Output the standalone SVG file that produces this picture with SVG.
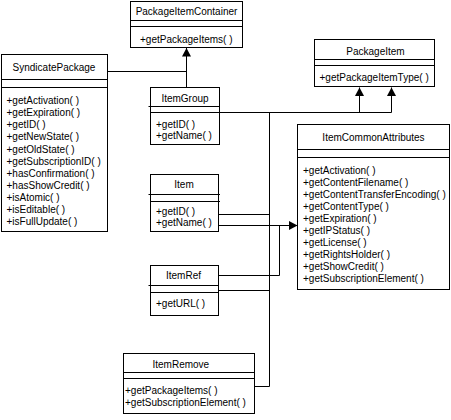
<svg xmlns="http://www.w3.org/2000/svg" width="451" height="420" viewBox="0 0 451 420">
<style>
.box{fill:#fff;stroke:#000;stroke-width:1}
.ln{fill:none;stroke:#000;stroke-width:1}
text{font-family:"Liberation Sans",Arial,sans-serif;font-size:10px;fill:#000}
.t{text-anchor:middle}
</style>
<defs>
<marker id="gen" markerUnits="userSpaceOnUse" markerWidth="12" markerHeight="12" viewBox="-10 -6 12 12" refX="0" refY="0" orient="auto">
<path d="M0,0 L-8.5,-4.5 L-8.5,4.5 Z" fill="#000"/>
</marker>
</defs>
<rect width="451" height="420" fill="#fff"/>
<g id="connectors">
<polyline class="ln" points="107.5,71.5 186.5,71.5"/>
<line class="ln" x1="186.5" y1="87.5" x2="186.5" y2="48" marker-end="url(#gen)"/>
<polyline class="ln" points="219.5,112.5 391.5,112.5"/>
<line class="ln" x1="359.5" y1="112.5" x2="359.5" y2="87.5" marker-end="url(#gen)"/>
<line class="ln" x1="391.5" y1="112.5" x2="391.5" y2="87.5" marker-end="url(#gen)"/>
<line class="ln" x1="269.5" y1="112.5" x2="269.5" y2="386.5"/>
<line class="ln" x1="218.5" y1="214.5" x2="269.5" y2="214.5"/>
<line class="ln" x1="218.5" y1="225.5" x2="297.5" y2="225.5" marker-end="url(#gen)"/>
<polyline class="ln" points="218.5,275.5 279.5,275.5 279.5,225.5"/>
<line class="ln" x1="218.5" y1="290.5" x2="269.5" y2="290.5"/>
<line class="ln" x1="254.5" y1="386.5" x2="269.5" y2="386.5"/>
</g>
<g id="PackageItemContainer">
<rect class="box" x="130.5" y="1.5" width="112" height="46"/>
<line class="ln" x1="130.5" y1="20.5" x2="242.5" y2="20.5"/>
<line class="ln" x1="130.5" y1="26.5" x2="242.5" y2="26.5"/>
<text class="t" x="186.5" y="14.5">PackageItemContainer</text>
<text x="140" y="42.5">+getPackageItems( )</text>
</g>
<g id="PackageItem">
<rect class="box" x="314.5" y="39.5" width="120" height="47"/>
<line class="ln" x1="314.5" y1="59.5" x2="434.5" y2="59.5"/>
<line class="ln" x1="314.5" y1="65.5" x2="434.5" y2="65.5"/>
<text class="t" x="375.5" y="55">PackageItem</text>
<text x="319.5" y="81">+getPackageItemType( )</text>
</g>
<g id="SyndicatePackage">
<rect class="box" x="1.5" y="54.5" width="106" height="177"/>
<line class="ln" x1="1.5" y1="79.5" x2="107.5" y2="79.5"/>
<line class="ln" x1="1.5" y1="87.5" x2="107.5" y2="87.5"/>
<text class="t" x="54" y="70.5">SyndicatePackage</text>
<text x="6.5" y="104">+getActivation( )</text>
<text x="6.5" y="116">+getExpiration( )</text>
<text x="6.5" y="128">+getID( )</text>
<text x="6.5" y="140">+getNewState( )</text>
<text x="6.5" y="152.5">+getOldState( )</text>
<text x="6.5" y="164.5">+getSubscriptionID( )</text>
<text x="6.5" y="176.5">+hasConfirmation( )</text>
<text x="6.5" y="188.5">+hasShowCredit( )</text>
<text x="6.5" y="200.5">+isAtomic( )</text>
<text x="6.5" y="212.5">+isEditable( )</text>
<text x="6.5" y="224.5">+isFullUpdate( )</text>
</g>
<g id="ItemGroup">
<rect class="box" x="150.5" y="87.5" width="69" height="57"/>
<line class="ln" x1="148.5" y1="106.5" x2="219.5" y2="106.5"/>
<line class="ln" x1="150.5" y1="112.5" x2="219.5" y2="112.5"/>
<text class="t" x="185" y="101.5">ItemGroup</text>
<text x="156" y="127.5">+getID( )</text>
<text x="156" y="139">+getName( )</text>
</g>
<g id="ItemCommonAttributes">
<rect class="box" x="297.5" y="124.5" width="152" height="165"/>
<line class="ln" x1="297.5" y1="149.5" x2="449.5" y2="149.5"/>
<line class="ln" x1="297.5" y1="157.5" x2="449.5" y2="157.5"/>
<text class="t" x="373.5" y="141">ItemCommonAttributes</text>
<text x="303" y="173.5">+getActivation( )</text>
<text x="303" y="185.5">+getContentFilename( )</text>
<text x="303" y="197.5">+getContentTransferEncoding( )</text>
<text x="303" y="209.5">+getContentType( )</text>
<text x="303" y="221.5">+getExpiration( )</text>
<text x="303" y="233.5">+getIPStatus( )</text>
<text x="303" y="245.5">+getLicense( )</text>
<text x="303" y="257.5">+getRightsHolder( )</text>
<text x="303" y="269.5">+getShowCredit( )</text>
<text x="303" y="281.5">+getSubscriptionElement( )</text>
</g>
<g id="Item">
<rect class="box" x="150.5" y="174.5" width="68" height="57"/>
<line class="ln" x1="148.5" y1="194.5" x2="220" y2="194.5"/>
<line class="ln" x1="150.5" y1="201.5" x2="220" y2="201.5"/>
<text class="t" x="184" y="188">Item</text>
<text x="156" y="215">+getID( )</text>
<text x="156" y="226">+getName( )</text>
</g>
<g id="ItemRef">
<rect class="box" x="150.5" y="265.5" width="68" height="50"/>
<line class="ln" x1="148.5" y1="285.5" x2="218.5" y2="285.5"/>
<line class="ln" x1="150.5" y1="292.5" x2="218.5" y2="292.5"/>
<text class="t" x="183.5" y="279">ItemRef</text>
<text x="156" y="307">+getURL( )</text>
</g>
<g id="ItemRemove">
<rect class="box" x="123.5" y="353.5" width="131" height="60"/>
<line class="ln" x1="123.5" y1="372.5" x2="254.5" y2="372.5"/>
<line class="ln" x1="123.5" y1="378.5" x2="254.5" y2="378.5"/>
<text x="152.5" y="368">ItemRemove</text>
<text x="125" y="393.5">+getPackageItems( )</text>
<text x="125" y="406">+getSubscriptionElement( )</text>
</g>
</svg>
